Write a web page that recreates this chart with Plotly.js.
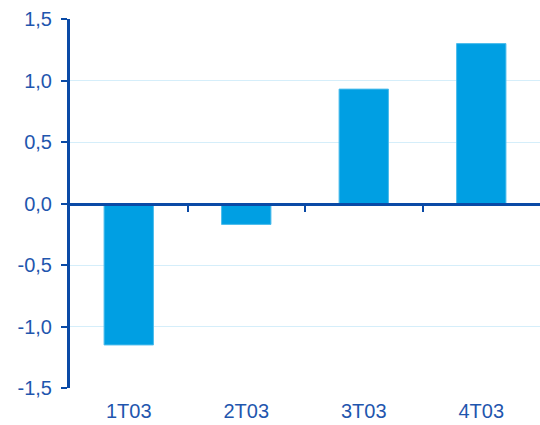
<!DOCTYPE html>
<html><head><meta charset="utf-8">
<script src="https://cdn.plot.ly/plotly-3.0.1.min.js"></script>
<style>html,body{margin:0;padding:0;background:#fff}#chart{width:540px;height:425px}</style>
</head><body><div id="chart"></div>
<script>
const categories = ["1T03", "2T03", "3T03", "4T03"];
const values = [-1.15, -0.17, 0.93, 1.30];
const yTickVals = [-1.5, -1.0, -0.5, 0, 0.5, 1.0, 1.5];
const yTickText = ["-1,5", "-1,0", "-0,5", "0,0", "0,5", "1,0", "1,5"];
const boundaryTicks = [0.5, 1.5, 2.5];

const axisBlue = "#0a4aa6";
const textBlue = "#1f56ae";
const font = {family: "Liberation Sans", size: 20, color: textBlue};

const trace = {
  type: "bar", x: categories, y: values,
  marker: {color: "#009fe3", line: {color: "#4cbcec", width: 1}},
  hoverinfo: "none"
};

const layout = {
  width: 540, height: 425,
  margin: {l: 70, r: 0, t: 19, b: 37},
  paper_bgcolor: "#fff", plot_bgcolor: "#fff",
  showlegend: false, bargap: 0.58,
  font: font,
  xaxis: {
    type: "category", range: [-0.5, 3.5],
    showline: false, showgrid: false, zeroline: false,
    ticks: "outside", ticklen: 5, tickcolor: "rgba(0,0,0,0)",
    tickfont: font
  },
  xaxis2: {
    overlaying: "x", anchor: "free", position: 0.5,
    range: [-0.5, 3.5], type: "linear",
    showline: true, linecolor: axisBlue, linewidth: 3,
    tickvals: boundaryTicks, ticks: "outside", ticklen: 6, tickwidth: 2, tickcolor: axisBlue,
    showticklabels: false, showgrid: false, zeroline: false
  },
  yaxis: {
    range: [-1.5, 1.5], tickvals: yTickVals, ticktext: yTickText,
    showline: true, linecolor: axisBlue, linewidth: 3,
    ticks: "outside", ticklen: 6, tickwidth: 2, tickcolor: axisBlue,
    showgrid: true, gridcolor: "#d5eefa", gridwidth: 1,
    zeroline: false, tickfont: font, ticklabelstandoff: 5
  }
};

const dummy = {type: "scatter", x: [0], y: [0], xaxis: "x2", mode: "none", hoverinfo: "none", showlegend: false};

Plotly.newPlot("chart", [trace, dummy], layout, {staticPlot: true, displayModeBar: false});
</script></body></html>
